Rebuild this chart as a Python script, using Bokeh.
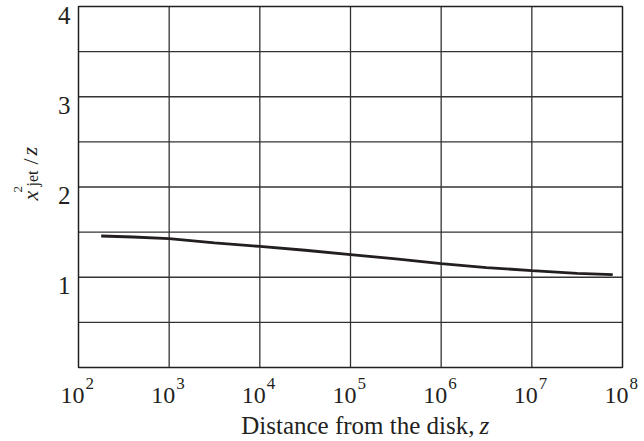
import math
from bokeh.plotting import figure
from bokeh.models import Range1d, ColumnDataSource, LabelSet, Label
from bokeh.core.properties import value
from bokeh.embed import file_html
from bokeh.resources import INLINE

# ---- data ----
z_vals = [178, 398, 1000, 3162, 10000, 31623, 100000, 316228, 1000000, 3162278, 10000000, 31622777, 78000000]
ratio_vals = [1.457, 1.446, 1.429, 1.380, 1.341, 1.299, 1.251, 1.203, 1.152, 1.107, 1.074, 1.044, 1.030]

x_tick_vals = [1e2, 1e3, 1e4, 1e5, 1e6, 1e7, 1e8]
x_tick_base = ["10", "10", "10", "10", "10", "10", "10"]
x_tick_exp = ["2", "3", "4", "5", "6", "7", "8"]
x_grid_vals = [1e3, 1e4, 1e5, 1e6, 1e7]

y_tick_vals = [1, 2, 3, 4]
y_tick_labels = ["1", "2", "3", "4"]
y_grid_vals = [0.5, 1, 1.5, 2, 2.5, 3, 3.5]

x_title = "Distance from the disk,"
x_title_var = "z"

# ---- layout: where the plot box sits on the canvas (pixels) ----
W, H = 644, 441
FL, FR, FT, FB = 78, 622, 6, 367
XMIN, XMAX, YMIN, YMAX = 1e2, 1e8, 0.0, 4.0

LX0, LX1 = math.log10(XMIN), math.log10(XMAX)
def px_x(px):
    return 10 ** (LX0 + (px - FL) / (FR - FL) * (LX1 - LX0))

def px_y(py):
    return YMIN + (FB - py) / (FB - FT) * (YMAX - YMIN)

FONT = "Liberation Serif"
INK = "#231f20"
GRID = "#333333"

# the frame covers the whole canvas; ranges extended so the box lands at FL..FR, FT..FB
p = figure(width=W, height=H, x_axis_type="log",
           x_range=Range1d(px_x(0), px_x(W)), y_range=Range1d(px_y(H), px_y(0)),
           output_backend="svg", toolbar_location=None, min_border=0)
p.title.visible = False
p.xaxis.visible = False
p.yaxis.visible = False
p.grid.visible = False
p.outline_line_color = None
p.background_fill_color = "white"
p.border_fill_color = "white"

# grid lines
p.segment(x0=x_grid_vals, y0=[YMIN] * len(x_grid_vals), x1=x_grid_vals, y1=[YMAX] * len(x_grid_vals),
          line_color=GRID, line_width=1.3)
p.segment(x0=[XMIN] * len(y_grid_vals), y0=y_grid_vals, x1=[XMAX] * len(y_grid_vals), y1=y_grid_vals,
          line_color=GRID, line_width=1.3)
# plot box
p.quad(left=[XMIN], right=[XMAX], bottom=[YMIN], top=[YMAX],
       fill_color=None, line_color=INK, line_width=1.5)

src = ColumnDataSource(dict(z=z_vals, r=ratio_vals))
p.line("z", "r", source=src, line_color=INK, line_width=2.8)

# x tick labels: "10" with superscript exponent
xs = ColumnDataSource(dict(x=x_tick_vals, base=x_tick_base, exp=x_tick_exp,
                           yb=[px_y(402)] * len(x_tick_vals),
                           ye=[px_y(388)] * len(x_tick_vals)))
p.add_layout(LabelSet(x="x", y="yb", text="base", source=xs, x_offset=6,
                      text_align="right", text_baseline="alphabetic",
                      text_font=value(FONT), text_font_size=value("24px"), text_color=INK))
p.add_layout(LabelSet(x="x", y="ye", text="exp", source=xs, x_offset=7,
                      text_align="left", text_baseline="alphabetic",
                      text_font=value(FONT), text_font_size=value("17px"), text_color=INK))

# y tick labels
ys = ColumnDataSource(dict(y=y_tick_vals, t=y_tick_labels, x=[XMIN] * len(y_tick_vals)))
p.add_layout(LabelSet(x="x", y="y", text="t", source=ys, x_offset=-8,
                      text_align="right", text_baseline="top",
                      text_font=value(FONT), text_font_size=value("25px"), text_color=INK))

# x axis title
p.add_layout(Label(x=px_x(474), y=px_y(425), text=x_title, text_align="right",
                   text_baseline="alphabetic", text_font=FONT, text_font_size="25px",
                   text_color=INK))
p.add_layout(Label(x=px_x(479), y=px_y(425), text=x_title_var, text_align="left",
                   text_baseline="alphabetic", text_font=FONT, text_font_size="25px",
                   text_font_style="italic", text_color=INK))

# y axis title: x^2_jet / z (rotated)
rot = math.pi / 2
def ylab(text, sxp, syp, size, style="normal"):
    p.add_layout(Label(x=px_x(sxp), y=px_y(syp), text=text, angle=rot,
                       text_align="left", text_baseline="alphabetic",
                       text_font=FONT, text_font_size=size, text_font_style=style,
                       text_color=INK))

ylab("x", 30, 200, "22px", "italic")
ylab("2", 17, 192, "13px")
ylab("jet", 32, 186, "16px")
ylab("/", 30, 164, "22px")
ylab("z", 29, 155, "22px", "italic")

open("out.html", "w").write(file_html(p, INLINE))
